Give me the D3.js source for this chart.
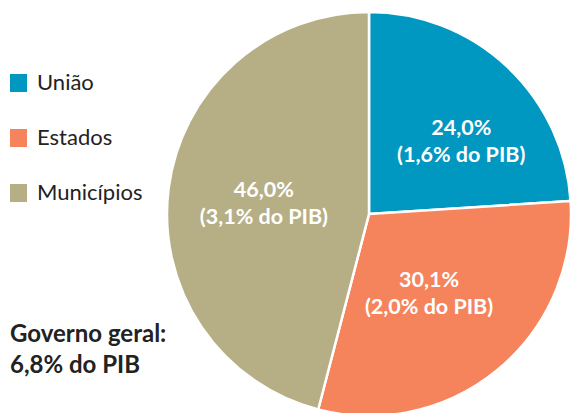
<!DOCTYPE html>
<html><head><meta charset="utf-8">
<script src="https://cdn.jsdelivr.net/npm/d3@7"></script>
<style>body{margin:0;background:#fff}svg{display:block}</style>
</head><body>
<svg id="c" width="570" height="413"></svg>
<script>
const categories = ["União", "Estados", "Municípios"];
const shares = [24.0, 30.1, 46.0];
const pibLabels = ["1,6% do PIB", "2,0% do PIB", "3,1% do PIB"];
const shareLabels = ["24,0%", "30,1%", "46,0%"];
const colors = ["#0097C1", "#F5835B", "#B6AF86"];
const totalLabel = ["Governo geral:", "6,8% do PIB"];

const svg = d3.select("#c");
const cx = 369, cy = 214, R = 202;
const font = "Lato, 'Open Sans', sans-serif";

const pie = d3.pie().sort(null).value(d => d.v);
const data = categories.map((c, i) => ({c, v: shares[i], i}));
const arcs = pie(data);
const arc = d3.arc().innerRadius(0).outerRadius(R);
const labelArc = d3.arc().innerRadius(110).outerRadius(110);
const shift = [[17, 14], [-10, 1], [4, 10]];

const g = svg.append("g").attr("transform", `translate(${cx},${cy})`);
g.selectAll("path").data(arcs).join("path")
  .attr("d", arc)
  .attr("fill", d => colors[d.data.i])
  .attr("stroke", "#fff").attr("stroke-width", 2.5);

const lab = g.selectAll("g.lab").data(arcs).join("g").attr("class", "lab")
  .attr("transform", d => {
    const [x, y] = labelArc.centroid(d);
    const s = shift[d.data.i];
    return `translate(${x + s[0]},${y + s[1]})`;
  });
lab.append("text").attr("text-anchor", "middle").attr("y", -13)
  .attr("font-family", font).attr("font-weight", "bold").attr("font-size", 21.5)
  .attr("fill", "#fff").text(d => shareLabels[d.data.i]);
lab.append("text").attr("text-anchor", "middle").attr("y", 14)
  .attr("font-family", font).attr("font-weight", "bold").attr("font-size", 21.5)
  .attr("fill", "#fff").text(d => "(" + pibLabels[d.data.i] + ")");

const leg = svg.append("g");
const li = leg.selectAll("g").data(categories).join("g")
  .attr("transform", (d, i) => `translate(10,${74 + i * 55})`);
li.append("rect").attr("width", 17).attr("height", 18).attr("fill", (d, i) => colors[i]);
li.append("text").attr("x", 27).attr("y", 16)
  .attr("font-family", font).attr("font-size", 22).attr("fill", "#222").text(d => d);

svg.append("g").selectAll("text").data(totalLabel).join("text")
  .attr("x", 10).attr("y", (d, i) => 342 + i * 31)
  .attr("font-family", font).attr("font-weight", "bold").attr("font-size", 24)
  .attr("fill", "#222").text(d => d);
</script>
</body></html>
